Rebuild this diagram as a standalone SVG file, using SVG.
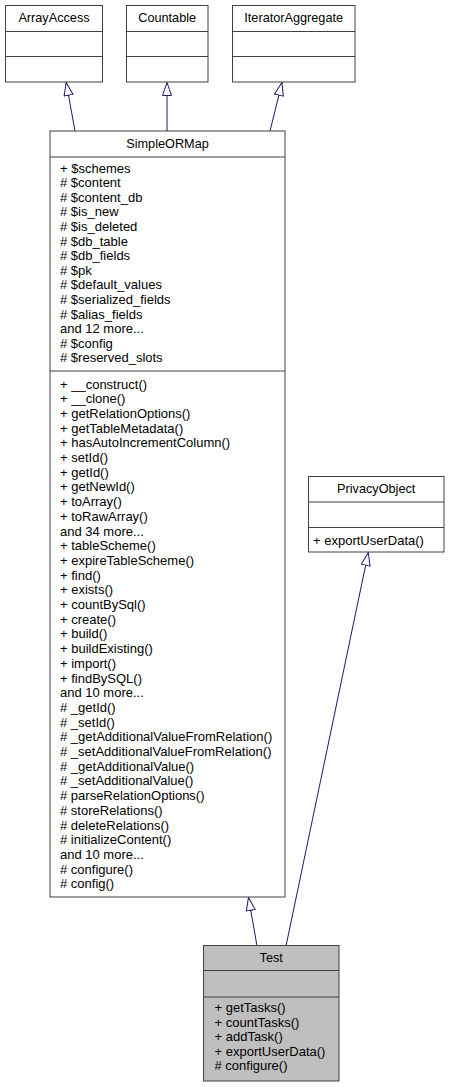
<svg xmlns="http://www.w3.org/2000/svg" width="449" height="1087" viewBox="0 0 449 1087">
<style>
.box{fill:#ffffff;stroke:#404040;stroke-width:1}
.sel{fill:#bfbfbf;stroke:#404040;stroke-width:1}
.div{stroke:#404040;stroke-width:1}
text{font-family:"Liberation Sans",Arial,Helvetica,sans-serif;font-size:13px;fill:#000000}
.t{text-anchor:middle;font-size:12.7px}
.edge{fill:none;stroke:#191970;stroke-width:1}
</style>
<defs>
<marker id="inh" markerUnits="userSpaceOnUse" markerWidth="16" markerHeight="12" refX="13.5" refY="5" orient="auto">
<path d="M0.5,0.5 L13.5,5 L0.5,9.5 Z" fill="#ffffff" stroke="#191970" stroke-width="1"/>
</marker>
</defs>
<rect width="449" height="1087" fill="#ffffff"/>
<g id="connectors">
<path class="edge" d="M75,131 L66.2,82.5" marker-end="url(#inh)"/>
<path class="edge" d="M167,131 L167,82.5" marker-end="url(#inh)"/>
<path class="edge" d="M270,131 L282,82.5" marker-end="url(#inh)"/>
<path class="edge" d="M257,946 L248.5,897.5" marker-end="url(#inh)"/>
<path class="edge" d="M286,946 L368.3,552.5" marker-end="url(#inh)"/>
</g>
<g id="ArrayAccess">
<rect class="box" x="5.5" y="5.5" width="97" height="76.5"/>
<line class="div" x1="5.5" y1="31.5" x2="102.5" y2="31.5"/>
<line class="div" x1="5.5" y1="56.5" x2="102.5" y2="56.5"/>
<text class="t" x="54" y="22">ArrayAccess</text>
</g>
<g id="Countable">
<rect class="box" x="126.5" y="5.5" width="81.5" height="76.5"/>
<line class="div" x1="126.5" y1="31.5" x2="208" y2="31.5"/>
<line class="div" x1="126.5" y1="56.5" x2="208" y2="56.5"/>
<text class="t" x="167.2" y="22">Countable</text>
</g>
<g id="IteratorAggregate">
<rect class="box" x="232.5" y="5.5" width="122.5" height="76.5"/>
<line class="div" x1="232.5" y1="31.5" x2="355" y2="31.5"/>
<line class="div" x1="232.5" y1="56.5" x2="355" y2="56.5"/>
<text class="t" x="293.7" y="22">IteratorAggregate</text>
</g>
<g id="SimpleORMap">
<rect class="box" x="50" y="131" width="235" height="766"/>
<line class="div" x1="50" y1="157" x2="285" y2="157"/>
<line class="div" x1="50" y1="371" x2="285" y2="371"/>
<text class="t" x="167.5" y="147.5">SimpleORMap</text>
<text x="60" y="172.5">+ $schemes</text>
<text x="60" y="187.1"># $content</text>
<text x="60" y="201.7"># $content_db</text>
<text x="60" y="216.3"># $is_new</text>
<text x="60" y="230.9"># $is_deleted</text>
<text x="60" y="245.5"># $db_table</text>
<text x="60" y="260.1"># $db_fields</text>
<text x="60" y="274.7"># $pk</text>
<text x="60" y="289.3"># $default_values</text>
<text x="60" y="303.9"># $serialized_fields</text>
<text x="60" y="318.5"># $alias_fields</text>
<text x="60" y="333.1">and 12 more...</text>
<text x="60" y="347.7"># $config</text>
<text x="60" y="362.3"># $reserved_slots</text>
<text x="60" y="388.5">+ __construct()</text>
<text x="60" y="403.2">+ __clone()</text>
<text x="60" y="417.9">+ getRelationOptions()</text>
<text x="60" y="432.6">+ getTableMetadata()</text>
<text x="60" y="447.3">+ hasAutoIncrementColumn()</text>
<text x="60" y="462">+ setId()</text>
<text x="60" y="476.7">+ getId()</text>
<text x="60" y="491.4">+ getNewId()</text>
<text x="60" y="506.1">+ toArray()</text>
<text x="60" y="520.8">+ toRawArray()</text>
<text x="60" y="535.5">and 34 more...</text>
<text x="60" y="550.2">+ tableScheme()</text>
<text x="60" y="564.9">+ expireTableScheme()</text>
<text x="60" y="579.6">+ find()</text>
<text x="60" y="594.3">+ exists()</text>
<text x="60" y="609">+ countBySql()</text>
<text x="60" y="623.7">+ create()</text>
<text x="60" y="638.4">+ build()</text>
<text x="60" y="653.1">+ buildExisting()</text>
<text x="60" y="667.8">+ import()</text>
<text x="60" y="682.5">+ findBySQL()</text>
<text x="60" y="697.2">and 10 more...</text>
<text x="60" y="711.9"># _getId()</text>
<text x="60" y="726.6"># _setId()</text>
<text x="60" y="741.3"># _getAdditionalValueFromRelation()</text>
<text x="60" y="756"># _setAdditionalValueFromRelation()</text>
<text x="60" y="770.7"># _getAdditionalValue()</text>
<text x="60" y="785.4"># _setAdditionalValue()</text>
<text x="60" y="800.1"># parseRelationOptions()</text>
<text x="60" y="814.8"># storeRelations()</text>
<text x="60" y="829.5"># deleteRelations()</text>
<text x="60" y="844.2"># initializeContent()</text>
<text x="60" y="858.9">and 10 more...</text>
<text x="60" y="873.6"># configure()</text>
<text x="60" y="888.3"># config()</text>
</g>
<g id="PrivacyObject">
<rect class="box" x="308.5" y="476.5" width="135.5" height="75.5"/>
<line class="div" x1="308.5" y1="502" x2="444" y2="502"/>
<line class="div" x1="308.5" y1="527.5" x2="444" y2="527.5"/>
<text class="t" x="376.2" y="493">PrivacyObject</text>
<text x="313" y="544.5">+ exportUserData()</text>
</g>
<g id="Test">
<rect class="sel" x="203.5" y="945.5" width="135.5" height="135.5"/>
<line class="div" x1="203.5" y1="970.5" x2="339" y2="970.5"/>
<line class="div" x1="203.5" y1="997" x2="339" y2="997"/>
<text class="t" x="271.2" y="962">Test</text>
<text x="214.5" y="1012">+ getTasks()</text>
<text x="214.5" y="1026.5">+ countTasks()</text>
<text x="214.5" y="1041">+ addTask()</text>
<text x="214.5" y="1055.5">+ exportUserData()</text>
<text x="214.5" y="1070"># configure()</text>
</g>
</svg>
